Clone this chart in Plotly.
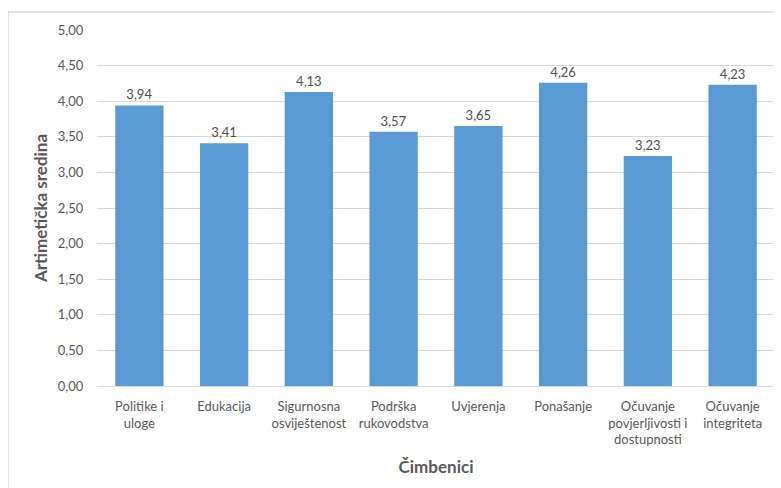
import plotly.graph_objects as go

categories = ["Politike i<br>uloge", "Edukacija", "Sigurnosna<br>osviještenost",
              "Podrška<br>rukovodstva", "Uvjerenja", "Ponašanje",
              "Očuvanje<br>povjerljivosti i<br>dostupnosti", "Očuvanje<br>integriteta"]
values = [3.94, 3.41, 4.13, 3.57, 3.65, 4.26, 3.23, 4.23]
y_ticks = [0, 0.5, 1, 1.5, 2, 2.5, 3, 3.5, 4, 4.5, 5]

FONT = "Lato, Open Sans, sans-serif"
GRID = "#D9D9D9"

fig = go.Figure(go.Bar(
    x=categories, y=values,
    marker=dict(color="#5B9BD5", line=dict(width=0)),
    texttemplate="%{y:.2f}", textposition="outside", cliponaxis=False,
    textfont=dict(size=13, color="#505050", family=FONT),
))

fig.update_layout(
    width=773, height=480,
    margin=dict(l=89, r=6, t=22, b=102),
    paper_bgcolor="white", plot_bgcolor="white",
    separators=",.",
    bargap=0.43,
    showlegend=False,
    font=dict(family=FONT, size=13, color="#595959"),
    xaxis=dict(
        showgrid=False, showline=True, linecolor=GRID, linewidth=1,
        ticks="outside", ticklen=8, tickcolor="rgba(0,0,0,0)",
        tickfont=dict(size=13, color="#595959"),
        title=dict(text="<b>Čimbenici</b>", font=dict(size=17, color="#595959"), standoff=14),
    ),
    yaxis=dict(
        range=[0, 5], tickvals=y_ticks, tickformat=".2f",
        showgrid=True, gridcolor=GRID, gridwidth=1, zeroline=False,
        showline=False,
        ticks="outside", ticklen=10, tickcolor="rgba(0,0,0,0)",
        tickfont=dict(size=13, color="#595959"),
        title=dict(text="<b>Artimetička sredina</b>", font=dict(size=17, color="#595959"), standoff=5),
    ),
    shapes=[dict(type="rect", xref="paper", yref="paper",
                 x0=-0.1313, x1=1.05, y0=-0.4, y1=1.0506,
                 line=dict(color=GRID, width=1.5), fillcolor="rgba(0,0,0,0)", layer="below")],
)

fig.write_html("out.html")
